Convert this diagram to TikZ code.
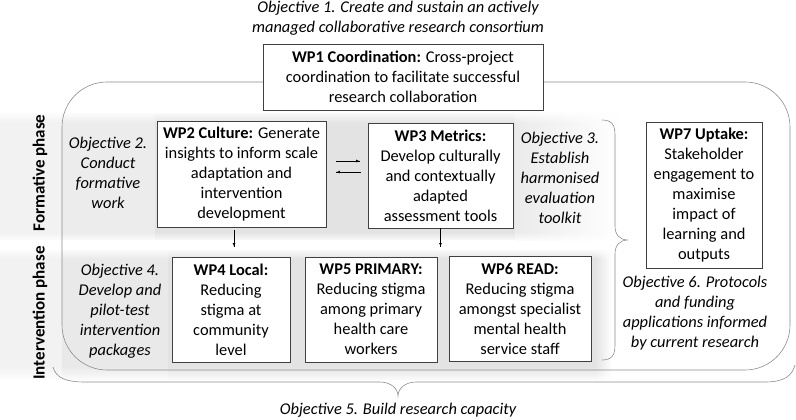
\documentclass[tikz,border=0pt]{standalone}
\usepackage{fontspec}
\setmainfont{Carlito}
\usepackage{tikz}
\usetikzlibrary{arrows}
\usetikzlibrary{calc}
\usetikzlibrary{decorations.markings}
\usetikzlibrary{fadings}
\newcommand{\txtsize}{\fontsize{16.4}{20}\selectfont}
\tikzset{flow/.style = {decoration={markings,
                                    mark=at position 1 with {\arrow[scale=0.9]{latex'}}},
                        postaction={decorate}}}
\tikzset{wp/.style = {draw = black!75, fill = white, line width = 0.6pt, align = center, inner sep = 0, font = \txtsize}}
\tikzset{obj/.style = {align = center, font = \txtsize\itshape, inner sep = 0}}
\tikzset{phase/.style = {rotate = 90, font = \fontsize{17}{20}\selectfont\bfseries, inner sep = 0}}
\tikzset{frame/.style = {draw = black!45, line width = 0.6pt}}
\tikzfading[name = fade down, top color = transparent!0, bottom color = transparent!100]
\tikzfading[name = fade up, top color = transparent!100, bottom color = transparent!0]

\begin{document}
\begin{tikzpicture}[x = 1pt, y = -1pt]
      \useasboundingbox (0, 0) rectangle (796, 420);
      % formative band
      \fill [gray!10] (0, 113) rectangle (62, 240);
      \fill [gray!15] (62, 113) rectangle (155, 240);
      \fill [gray!22] (155, 113) rectangle (515, 240);
      \shade [left color = gray!16, right color = white] (515, 113) rectangle (620, 240);
      \fill [white, path fading = fade down] (0, 111) rectangle (620, 123);
      \fill [white, path fading = fade up] (0, 232) rectangle (620, 242);
      % intervention band
      \fill [gray!10] (0, 250) rectangle (62, 380);
      \fill [gray!17] (62, 250) rectangle (168, 380);
      \fill [gray!22] (168, 250) rectangle (595, 380);
      \shade [left color = gray!22, right color = white] (595, 250) rectangle (612, 380);
      \fill [white, path fading = fade down] (0, 248) rectangle (612, 259);
      \fill [white, path fading = fade up] (0, 366) rectangle (612, 382);

      \draw [frame, rounded corners = 45pt] (62, 82) rectangle (790, 370);

      \node [obj] (obja) at (398, 18) {Objective 1. Create and sustain an actively\\managed collaborative research consortium};
      \node [wp, minimum width = 280pt, minimum height = 66pt] (wpa) at (403, 77) {\textbf{WP1 Coordination:} Cross-project\\coordination to facilitate successful\\research collaboration};

      \node [phase] (forma) at (40, 173) {Formative phase};
      \node [phase] (inter) at (40, 313) {Intervention phase};

      \node [obj] (objb) at (108, 173) {Objective 2.\\Conduct\\formative\\work};
      \node [wp, minimum width = 169pt, minimum height = 106pt] (wpb) at (241.5, 174) {\textbf{WP2 Culture:} Generate\\insights to inform scale\\adaptation and\\intervention\\development};
      \node [wp, minimum width = 145pt, minimum height = 105pt] (wpc) at (440.5, 175.5) {\textbf{WP3 Metrics:}\\Develop culturally\\and contextually\\adapted\\assessment tools};
      \node [obj] (objc) at (560, 178) {Objective 3.\\Establish\\harmonised\\evaluation\\toolkit};

      \node [obj] (objd) at (120, 311) {Objective 4.\\Develop and\\pilot-test\\intervention\\packages};
      \node [wp, minimum width = 118pt, minimum height = 105pt] (wpd) at (231, 309.5) {\textbf{WP4 Local:}\\Reducing\\stigma at\\community\\level};
      \node [wp, minimum width = 132pt, minimum height = 105pt] (wpe) at (371, 309.5) {\textbf{WP5 PRIMARY:}\\Reducing stigma\\among primary\\health care\\workers};
      \node [wp, minimum width = 142pt, minimum height = 105pt] (wpf) at (520, 308.5) {\textbf{WP6 READ:}\\Reducing stigma\\amongst specialist\\mental health\\service staff};

      \node [wp, minimum width = 116pt, minimum height = 146pt] (wpg) at (704, 195) {\textbf{WP7 Uptake:}\\Stakeholder\\engagement to\\maximise\\impact of\\learning and\\outputs};
      \node [obj] (objf) at (695, 313) {Objective 6. Protocols\\and funding\\applications informed\\by current research};
      \node [obj] (obje) at (398, 410) {Objective 5. Build research capacity};

      % arrows
      \draw [flow] ($(wpb.east) + (10, -13)$) -- ($(wpc.west |- wpb.east) + (-8, -13)$);
      \draw [flow] ($(wpc.west |- wpb.east) + (-7, -2)$) -- ($(wpb.east) + (10, -2)$);
      \draw [flow] ($(wpb.south) + (-7.5, 3)$) -- ($(wpd.north) + (3, -10)$);
      \draw [flow] (wpc.south) -- ($(wpc.south |- wpe.north) + (0, -10)$);

      % braces
      \draw [frame] (602, 120) .. controls (612, 120) and (615, 125) .. (615, 135) -- (615, 226)
            .. controls (615, 235) and (620, 240) .. (628, 240)
            .. controls (620, 240) and (615, 245) .. (615, 254) -- (615, 345)
            .. controls (615, 355) and (612, 360) .. (602, 360);
      \draw [frame] (53, 367) .. controls (56, 378) and (66, 382) .. (85, 382) -- (380, 382)
            .. controls (390, 382) and (398, 388) .. (398, 396)
            .. controls (398, 388) and (406, 382) .. (416, 382) -- (765, 382)
            .. controls (784, 382) and (792, 376) .. (795, 365);
    \end{tikzpicture}
\end{document}
